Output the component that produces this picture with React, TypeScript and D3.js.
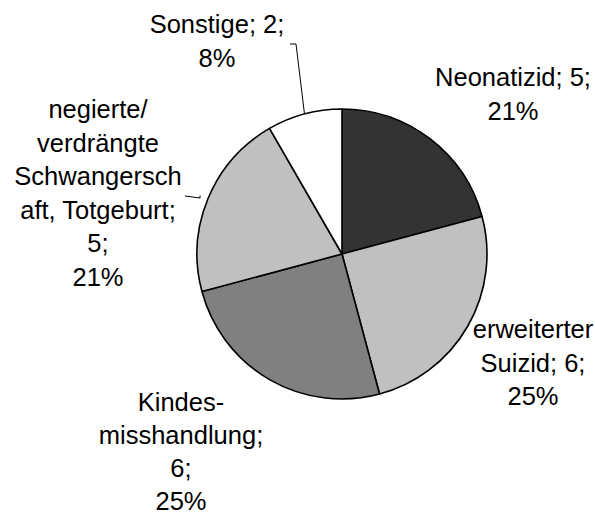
import React from "react";
import * as d3 from "d3";

const categories = ["Neonatizid", "erweiterter Suizid", "Kindesmisshandlung", "negierte/verdrängte Schwangerschaft, Totgeburt", "Sonstige"];
const values = [5, 6, 6, 5, 2];
const percents = ["21%", "25%", "25%", "21%", "8%"];
const colors = ["#333333", "#c0c0c0", "#808080", "#c0c0c0", "#ffffff"];
const labelLines = [
  ["Neonatizid; 5;", "21%"],
  ["erweiterter", "Suizid; 6;", "25%"],
  ["Kindes-", "misshandlung;", "6;", "25%"],
  ["negierte/", "verdrängte", "Schwangersch", "aft, Totgeburt;", "5;", "21%"],
  ["Sonstige; 2;", "8%"],
];
const labelAnchors = [
  { x: 513, y: 86 },
  { x: 533, y: 338 },
  { x: 181, y: 411 },
  { x: 98, y: 118 },
  { x: 217, y: 33 },
];

const W = 595, H = 516;
const cx = 342, cy = 254, R = 145;
const lineH = 33.6;
const kindesLineH = 33;

export default function App() {
  const pie = d3.pie<number>().sort(null).value((d) => d);
  const arcs = pie(values);
  const arcGen = d3.arc<d3.PieArcDatum<number>>().innerRadius(0).outerRadius(R);
  const outer = (a: d3.PieArcDatum<number>) => {
    const m = (a.startAngle + a.endAngle) / 2;
    return [cx + R * Math.sin(m), cy - R * Math.cos(m)];
  };
  const sp = outer(arcs[4]);
  const np = outer(arcs[3]);
  return (
    <svg width={W} height={H} style={{ position: "absolute", left: 0, top: 0, background: "#fff" }}
      fontFamily="'Liberation Sans', Arial, sans-serif">
      <g transform={`translate(${cx},${cy})`}>
        {arcs.map((a, i) => (
          <path key={categories[i]} d={arcGen(a) || ""} fill={colors[i]} stroke="#000" strokeWidth={1.6} strokeLinejoin="round" />
        ))}
      </g>
      <polyline points={`${sp[0]},${sp[1]} 296,44 290,44`} fill="none" stroke="#000" strokeWidth={1} />
      <polyline points={`${np[0] - 8},${np[1] - 3} 200,198 185,196`} fill="none" stroke="#000" strokeWidth={1} />
      {labelLines.map((lines, i) => (
        <text key={i} textAnchor="middle" fontSize={25.5} fill="#000">
          {lines.map((l, j) => (
            <tspan key={j} x={labelAnchors[i].x} y={labelAnchors[i].y + j * (i === 2 ? kindesLineH : lineH)}>{l}</tspan>
          ))}
        </text>
      ))}
    </svg>
  );
}
